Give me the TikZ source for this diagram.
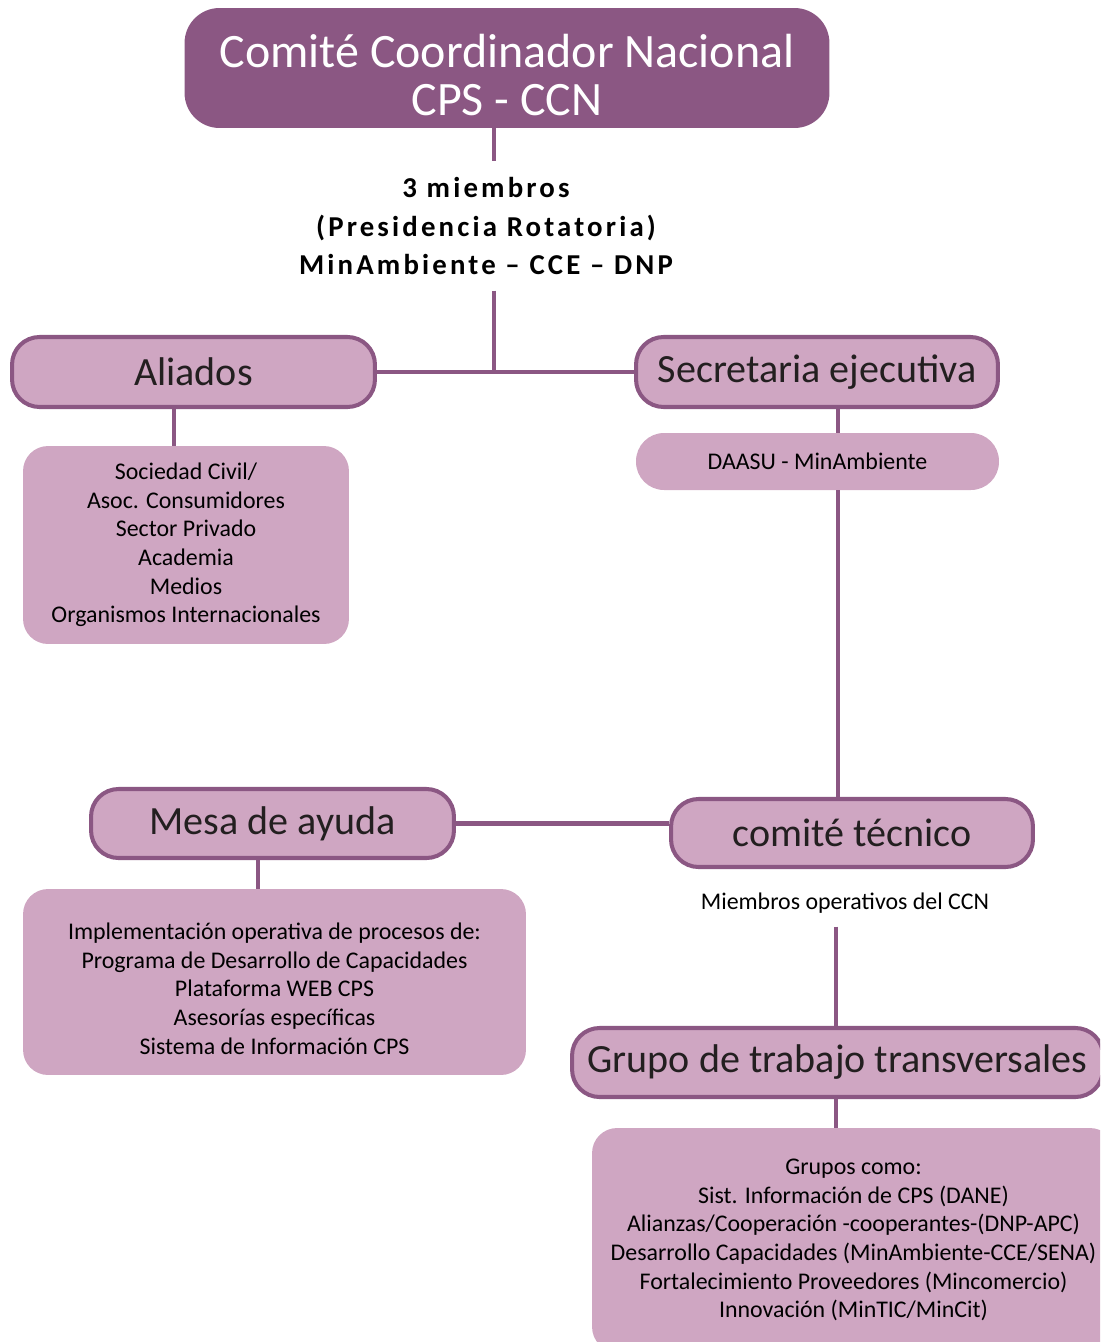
\documentclass[tikz,border=0pt]{standalone}
\usepackage{fontspec}
\setmainfont{Carlito}
\usetikzlibrary{calc}

\definecolor{morado}{HTML}{8B5783}
\definecolor{lila}{HTML}{CFA6C2}
\definecolor{tinta}{HTML}{231F20}

\tikzset{
  cabeza/.style={rectangle, rounded corners=0.55cm, draw=morado, line width=2.3pt, fill=lila, text=tinta,
    font=\fontsize{22.8}{26}\selectfont, inner sep=0pt},
  lista/.style={rectangle, rounded corners=0.5cm, fill=lila, text=black, align=center, inner sep=0pt,
    font=\fontsize{13.6}{16.3}\selectfont},
  enlace/.style={draw=morado, line width=2.3pt}
}

\begin{document}
\begin{tikzpicture}[x=0.02cm, y=-0.02cm]
\useasboundingbox (0,0) rectangle (1100,1342);
\clip (0,0) rectangle (1100,1342);

% cabeza del comite
\node[rectangle, rounded corners=0.7cm, fill=morado, text=white, align=center, inner sep=0pt,
      minimum width=12.9cm, minimum height=2.4cm, font=\fontsize{27.3}{27.3}\selectfont] (titulo) at (507,68)
      {\rule{0pt}{27pt}Comité Coordinador Nacional\\CPS - CCN};
\node[align=center, inner xsep=0pt, inner ysep=9pt, text=black,
      font=\fontsize{16.4}{21.8}\bfseries\addfontfeatures{LetterSpace=11}\selectfont] (miembros) at (486,226)
      {3 miembros\\(Presidencia Rotatoria)\\MinAmbiente – CCE – DNP};
\coordinate (junta) at (494,372);

% primer nivel
\node[cabeza, minimum width=7.26cm, minimum height=1.4cm] (aliados) at (193.5,372) {Aliados};
\node[cabeza, minimum width=7.24cm, minimum height=1.4cm] (secretaria) at (817,372) {Secretaria ejecutiva};
\node[lista, minimum width=6.52cm, minimum height=3.96cm] (aliadoslista) at (186,545)
      {Sociedad Civil/\\Asoc. Consumidores\\Sector Privado\\Academia\\Medios\\Organismos Internacionales};
\node[lista, rounded corners=0.56cm, minimum width=7.26cm, minimum height=1.14cm] (daasu) at (817.5,461.5)
      {DAASU - MinAmbiente};

% segundo nivel
\node[cabeza, minimum width=7.26cm, minimum height=1.38cm] (mesa) at (272.5,823.5) {Mesa de ayuda};
\node[cabeza, minimum width=7.24cm, minimum height=1.36cm] (tecnico) at (852,833) {comité técnico};
\node[lista, minimum width=10.06cm, minimum height=3.72cm] (mesalista) at (274.5,982)
      {\rule{0pt}{17pt}Implementación operativa de procesos de:\\Programa de Desarrollo de Capacidades\\Plataforma WEB CPS\\Asesorías específicas\\Sistema de Información CPS};
\node[inner xsep=0pt, inner ysep=7.4pt, font=\fontsize{13.6}{16.3}\selectfont] (operativos) at (845,903)
      {Miembros operativos del CCN};

% grupos
\node[cabeza, minimum width=10.62cm, minimum height=1.38cm] (grupo) at (837.5,1062.5) {Grupo de trabajo transversales};
\node[lista, minimum width=10.46cm, minimum height=4.48cm] (grupolista) at (853.5,1240)
      {Grupos como:\\Sist. Información de CPS (DANE)\\Alianzas/Cooperación -cooperantes-(DNP-APC)\\Desarrollo Capacidades (MinAmbiente-CCE/SENA)\\Fortalecimiento Proveedores (Mincomercio)\\Innovación (MinTIC/MinCit)};

% conexiones
\coordinate (aliadosbase) at ([xshift=-0.39cm]aliados.south);
\coordinate (secbase) at ([xshift=0.42cm]secretaria.south);
\coordinate (mesabase) at ([xshift=-0.29cm]mesa.south);
\coordinate (eje) at (836,0);
\draw[enlace] (titulo.south -| junta) -- (miembros.north -| junta);
\draw[enlace] (miembros.south -| junta) -- (junta);
\draw[enlace] (aliados.east) -- (secretaria.west);
\draw[enlace] (aliadosbase) -- (aliadosbase |- aliadoslista.north);
\draw[enlace] (secbase) -- (secbase |- daasu.north);
\draw[enlace] (secbase |- daasu.south) -- (secbase |- tecnico.north);
\draw[enlace] (mesa.east) -- (mesa.east -| tecnico.west);
\draw[enlace] (mesabase) -- (mesabase |- mesalista.north);
\draw[enlace] (operativos.south -| eje) -- (grupo.north -| eje);
\draw[enlace] (grupo.south -| eje) -- (grupolista.north -| eje);
\end{tikzpicture}
\end{document}
